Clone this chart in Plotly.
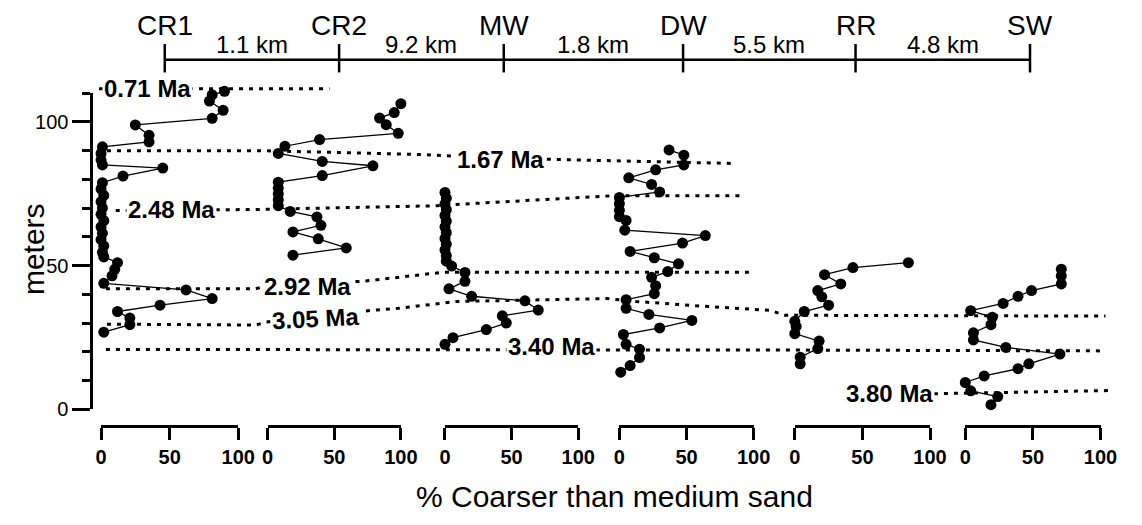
import plotly.graph_objects as go

W, H = 1142, 525
FONT = "Liberation Sans, Arial, Helvetica, sans-serif"

# ---------------- data ----------------
stations = ["CR1", "CR2", "MW", "DW", "RR", "SW"]
gaps_km = ["1.1 km", "9.2 km", "1.8 km", "5.5 km", "4.8 km"]
pct_ticks = [0, 50, 100]

cr1_pct = [90, 81, 79, 89, 81, 25, 35, 35, 1, 0, 0, 1, 45, 16,
           1, 0, 2, 0, 1, 0, 2, 0, 1, 0, 2, 1, 2,
           12, 10, 8, 2, 62, 81, 43, 12, 21, 21, 2]
cr1_m = [110.6, 109.4, 107.2, 104.0, 101.2, 98.9, 95.3, 93.0, 91.3, 89.0, 86.7, 85.0, 83.9, 81.1,
         78.8, 76.6, 74.4, 72.2, 70.0, 67.8, 65.6, 63.4, 61.2, 59.0, 56.8, 54.6, 53.0,
         51.0, 48.7, 46.4, 43.8, 41.5, 38.5, 36.2, 34.0, 31.7, 29.4, 26.8]

cr2_pct = [100, 95, 84, 89, 98, 39, 13, 8, 41, 79, 41, 8, 8, 8, 8, 8, 17, 37, 40, 19, 38, 59, 19]
cr2_m = [106.3, 103.2, 101.3, 99.0, 96.0, 93.8, 91.5, 89.0, 86.2, 84.7, 81.3, 79.0, 76.9, 74.9,
         72.8, 70.8, 68.8, 66.9, 64.0, 61.7, 59.3, 56.1, 53.6]

mw_pct = [0, 1, 0, 1, 0, 1, 0, 1, 0, 1, 0, 1, 1, 5, 15, 15, 3, 20, 60, 70, 43, 46, 31, 6, 0]
mw_m = [75.4, 73.4, 71.4, 69.4, 67.4, 65.4, 63.4, 61.4, 59.4, 57.4, 55.4, 53.4, 51.5, 49.8,
        47.6, 44.5, 41.9, 39.3, 37.7, 34.5, 32.5, 30.0, 27.7, 24.9, 22.6]

dw_pct = [37, 48, 48, 27, 7, 24, 30, 0, 0, 0, 0, 5, 4, 64, 47, 8, 26, 44, 36, 24, 27,
          26, 5, 5, 22, 54, 30, 3, 5, 15, 15, 8, 1]
dw_m = [90.2, 88.4, 85.0, 83.3, 80.5, 78.2, 75.6, 73.7, 71.5, 69.2, 67.0, 65.7, 62.3, 60.4,
        57.8, 54.9, 52.7, 50.6, 47.9, 45.9, 43.0, 40.2, 38.1, 35.1, 33.0, 30.9, 28.3, 26.0,
        22.6, 20.9, 18.0, 15.2, 12.9]

rr_pct = [84, 43, 22, 34, 17, 20, 25, 7, 0, 1, 0, 18, 17, 4, 4]
rr_m = [51.0, 49.3, 46.8, 43.6, 41.3, 39.1, 36.2, 34.0, 30.6, 28.8, 26.3, 23.7, 21.1, 18.1, 15.8]

sw_pct = [71, 71, 71, 49, 39, 28, 4, 20, 19, 6, 6, 30, 70, 47, 39, 14, 0, 4, 24, 19]
sw_m = [48.7, 46.4, 43.6, 41.3, 39.3, 36.8, 34.3, 32.0, 29.4, 26.6, 24.1, 21.5, 19.2, 15.8,
        14.1, 11.6, 9.3, 6.4, 4.4, 1.6]

# correlation horizons: position along section (in % units from CR1 origin), depth (m)
h071_x = [-1.5, 169.5]
h071_m = [111.5, 111.5]
h167_x = [4.4, 123.6, 238.5, 254.5, 336.7, 469.8]
h167_m = [89.9, 89.9, 88.6, 88.2, 86.9, 85.5]
h248_x = [10.9, 114.9, 249.5, 261.8, 380.4, 477.1]
h248_m = [69.1, 69.5, 70.8, 71.2, 74.3, 74.3]
h292_x = [3.6, 114.9, 120.0, 196.4, 254.5, 482.2]
h292_m = [41.9, 41.9, 42.6, 44.6, 47.7, 47.7]
h305_x = [4.4, 114.9, 122.2, 193.5, 220.4, 264.0, 375.3, 397.1, 438.5, 496.7, 507.6, 745.5]
h305_m = [29.6, 29.3, 30.3, 34.1, 35.1, 37.5, 38.5, 37.5, 36.1, 34.4, 32.7, 32.4]
h340_x = [3.6, 302.5, 496.7, 745.5]
h340_m = [20.8, 20.8, 20.6, 20.3]
h380_x = [618.2, 747.6]
h380_m = [5.4, 6.5]

ma_labels = ["0.71 Ma", "1.67 Ma", "2.48 Ma", "2.92 Ma", "3.05 Ma", "3.40 Ma", "3.80 Ma"]

# ---------------- layout constants ----------------
Y0_PX = 418          # pixel row of 0 m
PX_PER_M = 2.936
X0_PX = 97           # pixel column of CR1 0 %
PX_PER_G = 1.375
panel_left_px = [97, 267, 448, 626, 805, 979]
panel_w_px = [140, 136, 136, 137, 138, 138]
station_pos = [47.3, 176.7, 298.9, 432.0, 560.0, 689.5]
label_pos = [34.5, 296.7, 52.4, 153.5, 159.3, 334.5, 585.5]
label_m = [111.5, 86.9, 69.5, 42.6, 31.7, 21.8, 5.4]
label_angle = [0, 0, 0, 0, -3, 0, 0]


def py(p):
    return 1 - p / H


def px(p):
    return p / W


fig = go.Figure()

# horizons on the global section axis (drawn first so profiles sit on top)
for hx, hm in [(h071_x, h071_m), (h167_x, h167_m), (h248_x, h248_m), (h292_x, h292_m),
               (h305_x, h305_m), (h340_x, h340_m), (h380_x, h380_m)]:
    fig.add_trace(go.Scatter(x=hx, y=hm, xaxis="x", yaxis="y", mode="lines",
                             line=dict(color="black", width=3, dash="4px,6px"),
                             showlegend=False, hoverinfo="skip"))

# empty trace so the displayed depth axis is drawn
fig.add_trace(go.Scatter(x=[None], y=[None], xaxis="x", yaxis="y2", showlegend=False,
                         hoverinfo="skip"))

profiles = [(cr1_pct, cr1_m), (cr2_pct, cr2_m), (mw_pct, mw_m),
            (dw_pct, dw_m), (rr_pct, rr_m), (sw_pct, sw_m)]
for k, (p, m) in enumerate(profiles):
    fig.add_trace(go.Scatter(x=p, y=m, xaxis=f"x{k + 2}", yaxis="y", mode="lines+markers",
                             line=dict(color="black", width=1.3),
                             marker=dict(size=11, color="black"),
                             cliponaxis=False, showlegend=False, hoverinfo="skip"))

layout = dict(
    width=W, height=H, margin=dict(l=0, r=0, t=0, b=0),
    paper_bgcolor="white", plot_bgcolor="rgba(0,0,0,0)",
    showlegend=False,
    font=dict(family=FONT, color="black"),
    xaxis=dict(domain=[0, 1], range=[-X0_PX / PX_PER_G, (W - X0_PX) / PX_PER_G],
               visible=False, anchor="y", fixedrange=True),
    yaxis=dict(domain=[0, 1], range=[(Y0_PX - H) / PX_PER_M, Y0_PX / PX_PER_M],
               visible=False, anchor="x", fixedrange=True),
    yaxis2=dict(domain=[py(Y0_PX), py(Y0_PX - 110 * PX_PER_M)], range=[0, 110],
                anchor="free", position=px(87), side="left",
                showline=True, linewidth=2.5, linecolor="black",
                ticks="outside", ticklen=18, tickwidth=2.5, tickcolor="black",
                tickmode="linear", tick0=0, dtick=50,
                minor=dict(ticks="outside", ticklen=8, tickwidth=2.5, tickcolor="black",
                           tick0=0, dtick=10),
                showgrid=False, zeroline=False, tickfont=dict(size=20, family=FONT),
                fixedrange=True),
)
for k in range(6):
    L, w = panel_left_px[k], panel_w_px[k]
    layout[f"xaxis{k + 2}"] = dict(
        domain=[px(L), px(L + w)], range=[0, 100], anchor="free", position=py(435),
        showline=True, linewidth=2.5, linecolor="black",
        ticks="outside", ticklen=12, tickwidth=2.5, tickcolor="black",
        tickmode="array", tickvals=pct_ticks,
        tickfont=dict(size=20, family=FONT, weight="bold"),
        showgrid=False, zeroline=False, fixedrange=True)
fig.update_layout(**layout)

# header: station line with ticks
shapes = [dict(type="line", xref="x", yref="paper", x0=station_pos[0], x1=station_pos[-1],
               y0=py(61), y1=py(61), line=dict(color="black", width=2.5))]
for s in station_pos:
    shapes.append(dict(type="line", xref="x", yref="paper", x0=s, x1=s, y0=py(45), y1=py(74),
                       line=dict(color="black", width=2.5)))
fig.update_layout(shapes=shapes)

ann = []
for s, name in zip(station_pos, stations):
    ann.append(dict(x=s, y=py(26), xref="x", yref="paper", text=name, showarrow=False,
                    font=dict(size=28, family=FONT), xanchor="center", yanchor="middle"))
for i, g in enumerate(gaps_km):
    ann.append(dict(x=(station_pos[i] + station_pos[i + 1]) / 2, y=py(45), xref="x",
                    yref="paper", text=g, showarrow=False, font=dict(size=24, family=FONT),
                    xanchor="center", yanchor="middle"))
for t, g, m, a in zip(ma_labels, label_pos, label_m, label_angle):
    ann.append(dict(x=g, y=m, xref="x", yref="y", text=t, showarrow=False, textangle=a,
                    font=dict(size=24, family=FONT, weight="bold"), bgcolor="white",
                    borderpad=1, xanchor="center", yanchor="middle"))
ann.append(dict(x=px(621), y=py(507), xref="paper", yref="paper",
                text="% Coarser than medium sand", showarrow=False,
                font=dict(size=30, family=FONT), xanchor="center", yanchor="middle"))
ann.append(dict(x=px(28), y=py(254), xref="paper", yref="paper", text="meters",
                showarrow=False, textangle=-90, font=dict(size=30, family=FONT),
                xanchor="center", yanchor="middle"))
fig.update_layout(annotations=ann)

fig.write_html(
    "out.html",
    config={"displayModeBar": False},
    post_script="document.body.style.margin='0';document.body.style.overflow='hidden';",
)
